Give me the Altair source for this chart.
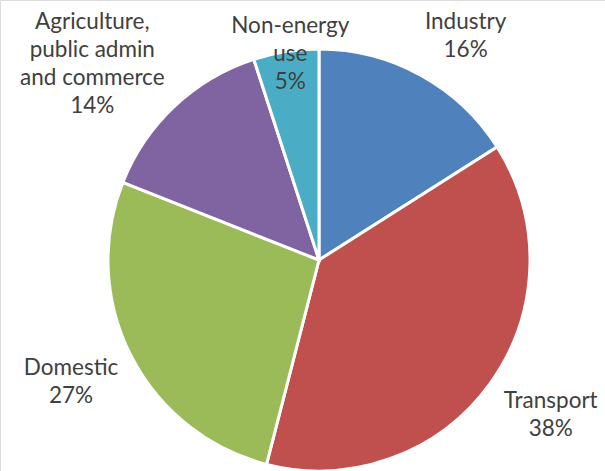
import altair as alt
import pandas as pd

# Final energy consumption by sector (share of total, %)
sectors = [
    "Industry",
    "Transport",
    "Domestic",
    "Agriculture,\npublic admin\nand commerce",
    "Non-energy\nuse",
]
shares = [16, 38, 27, 14, 5]
colors = ["#4F81BD", "#C0504D", "#9BBB59", "#8064A2", "#4BACC6"]

# Label placement: distance from the pie centre and a small pixel nudge
label_radius = [267, 279, 276, 299, 209]
label_nudge = [(18, 10), (6, -9), (-2, -3), (-22, 22), (4, 0)]

df = pd.DataFrame({"sector": sectors, "share": shares, "rank": list(range(len(sectors)))})

CX, CY, R = 319, 260, 211
LINE_H = 28
theta_scale = alt.Scale(domain=[0, 100])
font = "Lato"

base = alt.Chart(df)

pie = base.mark_arc(radius=R, stroke="white", strokeWidth=3).encode(
    theta=alt.Theta("share:Q", stack=True, scale=theta_scale),
    color=alt.Color("sector:N", scale=alt.Scale(domain=sectors, range=colors), legend=None),
    order=alt.Order("rank:Q"),
    x=alt.value(CX),
    y=alt.value(CY),
)

labels = []
for i, name in enumerate(sectors):
    dx, dy = label_nudge[i]
    # centre the whole multi-line block (name lines + percentage line)
    n_lines = name.count("\n") + 2
    dy -= (n_lines - 1) * LINE_H / 2
    layer = (
        base.transform_window(cum="sum(share)", sort=[alt.SortField("rank")], frame=[None, 0])
        .transform_calculate(
            mid="datum.cum - datum.share / 2",
            label="datum.sector + '\\n' + datum.share + '%'",
        )
        .transform_filter(alt.datum.rank == i)
        .mark_text(
            radius=label_radius[i],
            dx=dx,
            dy=dy,
            font=font,
            fontSize=22.5,
            lineHeight=LINE_H,
            lineBreak="\n",
            align="center",
            baseline="middle",
            color="#404040",
        )
        .encode(
            theta=alt.Theta("mid:Q", scale=theta_scale),
            text="label:N",
            x=alt.value(CX),
            y=alt.value(CY),
        )
    )
    labels.append(layer)

chart = (
    alt.layer(pie, *labels)
    .properties(width=605, height=471, autosize=alt.AutoSizeParams(type="none"), padding=0)
    .configure_view(stroke=None)
    .configure(background="white")
)

chart.save("out.html", embed_options={"renderer": "svg", "actions": False})
